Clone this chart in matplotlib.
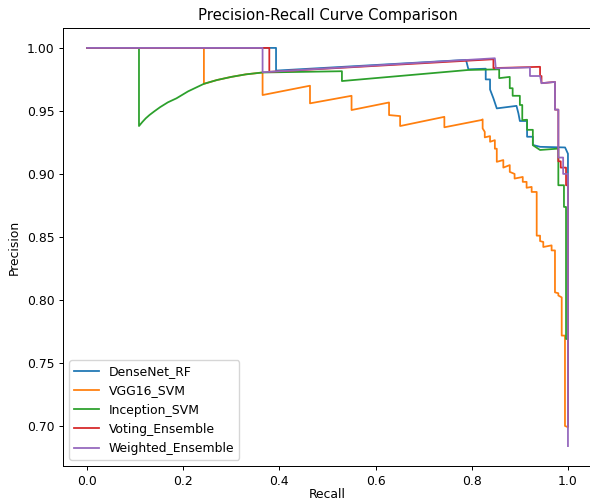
import matplotlib
matplotlib.use("Agg")
import matplotlib.pyplot as plt

# values: (recall, precision) vertices
densenet_recall = [0.0, 0.393, 0.393, 0.788, 0.793, 0.829, 0.829, 0.838, 0.838, 0.845, 0.852,
                   0.893, 0.897, 0.900, 0.915, 0.915, 0.927, 0.927, 0.942, 0.994, 1.0, 1.0]
densenet_prec = [1.0, 1.0, 0.982, 0.9905, 0.983, 0.9835, 0.975, 0.975, 0.967, 0.960, 0.952,
                 0.954, 0.948, 0.942, 0.942, 0.9295, 0.9295, 0.923, 0.9215, 0.921, 0.916, 0.70]

vgg_recall = [0.0, 0.243, 0.243, 0.27, 0.30, 0.33, 0.365, 0.365, 0.4636, 0.4636, 0.550, 0.550,
              0.628, 0.628, 0.651, 0.651, 0.743, 0.743, 0.8205, 0.8226, 0.8226, 0.827, 0.827,
              0.838, 0.838, 0.848, 0.848, 0.852, 0.852, 0.8656, 0.8656, 0.879, 0.879, 0.889,
              0.889, 0.906, 0.906, 0.914, 0.914, 0.9245, 0.9245, 0.935, 0.935, 0.942, 0.942,
              0.9487, 0.9487, 0.966, 0.966, 0.973, 0.973, 0.980, 0.980, 0.987, 0.987, 0.9938,
              0.9938, 1.0]
vgg_prec = [1.0, 1.0, 0.9715, 0.9745, 0.977, 0.979, 0.9805, 0.9626, 0.970, 0.956, 0.962, 0.9507,
            0.9567, 0.9467, 0.9459, 0.938, 0.9453, 0.937, 0.9428, 0.9433, 0.9361, 0.9334, 0.929,
            0.930, 0.9255, 0.9268, 0.920, 0.920, 0.9096, 0.911, 0.905, 0.907, 0.9016, 0.900,
            0.8963, 0.8976, 0.8937, 0.8937, 0.889, 0.8897, 0.8857, 0.8857, 0.851, 0.851,
            0.8467, 0.846, 0.842, 0.8433, 0.8393, 0.8393, 0.806, 0.8053, 0.8035, 0.802, 0.7717,
            0.7717, 0.700, 0.699]

inception_recall = [0.0, 0.108, 0.108, 0.115, 0.122, 0.13, 0.14, 0.152, 0.168, 0.186, 0.21,
                    0.243, 0.27, 0.30, 0.33, 0.365, 0.45, 0.53, 0.53, 0.793, 0.857, 0.857, 0.879,
                    0.879, 0.885, 0.885, 0.900, 0.900, 0.905, 0.905, 0.915, 0.915, 0.927, 0.927,
                    0.942, 0.977, 0.980, 0.980, 0.9917, 0.9917, 0.996, 0.996, 1.0]
inception_prec = [1.0, 1.0, 0.938, 0.9412, 0.9441, 0.9468, 0.9497, 0.953, 0.9568, 0.960, 0.9655,
                  0.9715, 0.9745, 0.977, 0.979, 0.9805, 0.981, 0.9815, 0.9737, 0.9825, 0.983,
                  0.976, 0.977, 0.968, 0.968, 0.962, 0.962, 0.9547, 0.9547, 0.9427, 0.943, 0.935,
                  0.935, 0.9228, 0.919, 0.920, 0.920, 0.891, 0.891, 0.8738, 0.8738, 0.769, 0.769]

voting_recall = [0.0, 0.379, 0.379, 0.845, 0.845, 0.942, 0.942, 0.945, 0.945, 0.973, 0.973,
                 0.980, 0.980, 0.985, 0.985, 0.996, 0.996, 1.0, 1.0]
voting_prec = [1.0, 1.0, 0.981, 0.991, 0.984, 0.985, 0.9777, 0.9777, 0.972, 0.973, 0.951,
               0.951, 0.910, 0.910, 0.905, 0.905, 0.891, 0.891, 0.70]

weighted_recall = [0.0, 0.365, 0.365, 0.848, 0.850, 0.921, 0.921, 0.942, 0.945, 0.973, 0.973,
                   0.980, 0.980, 0.990, 0.990, 1.0, 1.0]
weighted_prec = [1.0, 1.0, 0.9807, 0.9918, 0.9838, 0.9845, 0.9777, 0.9777, 0.972, 0.973, 0.951,
                 0.951, 0.913, 0.913, 0.900, 0.900, 0.684]

models = ["DenseNet_RF", "VGG16_SVM", "Inception_SVM", "Voting_Ensemble", "Weighted_Ensemble"]
curves = [(densenet_recall, densenet_prec), (vgg_recall, vgg_prec),
          (inception_recall, inception_prec), (voting_recall, voting_prec),
          (weighted_recall, weighted_prec)]

s = 0.89  # picture is a scaled-down default figure
plt.rcParams["font.size"] = 10 * s
plt.rcParams["lines.linewidth"] = 1.5 * 0.85
plt.rcParams["axes.linewidth"] = 0.8 * s
for ax_name in ("xtick", "ytick"):
    plt.rcParams[ax_name + ".major.size"] = 3.5 * s
    plt.rcParams[ax_name + ".major.width"] = 0.8 * s
    plt.rcParams[ax_name + ".major.pad"] = 3.5 * s

fig = plt.figure(figsize=(5.9, 5.01), dpi=100)
ax = fig.add_axes([63 / 590, 35 / 501, 529 / 590, 438 / 501])

for name, (r, p) in zip(models, curves):
    ax.plot(r, p, label=name)

ax.set_xlabel("Recall", labelpad=0.5)
ax.set_ylabel("Precision")
ax.set_title("Precision-Recall Curve Comparison", fontsize=12 * s)
ax.legend(loc="lower left")

fig.savefig("out.png", dpi=100)
